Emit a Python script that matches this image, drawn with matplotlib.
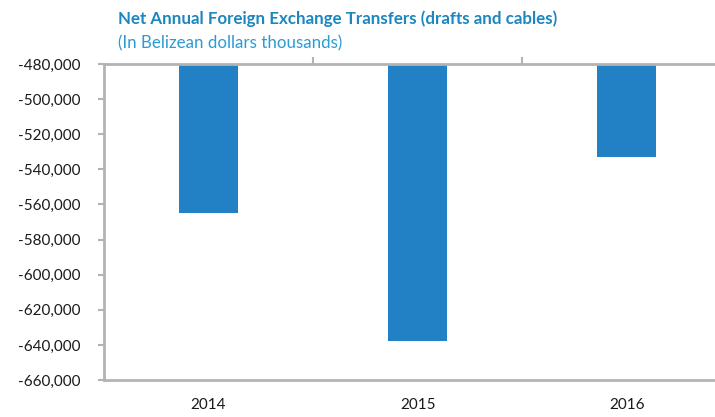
import matplotlib.pyplot as plt
from matplotlib.ticker import FuncFormatter

# data (BZ$ thousands)
years = ['2014', '2015', '2016']
transfers = [-565000, -638000, -533000]
base = -480000

plt.rcParams['font.family'] = ['Lato', 'DejaVu Sans']

fig = plt.figure(figsize=(7.15, 4.17), dpi=100)
ax = fig.add_axes([0.1455, 0.0887, 0.8545, 0.7578])

x = list(range(len(years)))
heights = [v - base for v in transfers]
ax.bar(x, heights, bottom=base, width=0.28, color='#2281c4')

ax.set_ylim(-660000, -480000)
ax.set_xlim(-0.5, 2.423)
ax.set_yticks(range(-660000, -479999, 20000))
ax.yaxis.set_major_formatter(FuncFormatter(lambda v, p: '{:,.0f}'.format(v)))

ax.set_xticks(x)
ax.set_xticklabels(years)
ax.set_xticks([0.5, 1.5], minor=True)

axis_grey = '#b3b3b3'
for side in ['left', 'top', 'bottom']:
    ax.spines[side].set_color(axis_grey)
    ax.spines[side].set_linewidth(2)
ax.spines['right'].set_visible(False)

ax.tick_params(axis='y', length=4, width=1.5, color=axis_grey, pad=13,
               labelsize=11, labelcolor='#1a1a1a')
ax.tick_params(axis='x', which='major', length=0, pad=13,
               labelsize=11, labelcolor='#1a1a1a')
ax.tick_params(axis='x', which='minor', top=True, bottom=False,
               direction='out', length=5, width=1.5, color=axis_grey)

fig.text(0.165, 0.955, 'Net Annual Foreign Exchange Transfers (drafts and cables)',
         fontsize=12.2, fontweight='bold', color='#1b86bf', va='center')
fig.text(0.165, 0.895, '(In Belizean dollars thousands)',
         fontsize=12.2, color='#2a9bd3', va='center')

fig.savefig('out.png', dpi=100)
